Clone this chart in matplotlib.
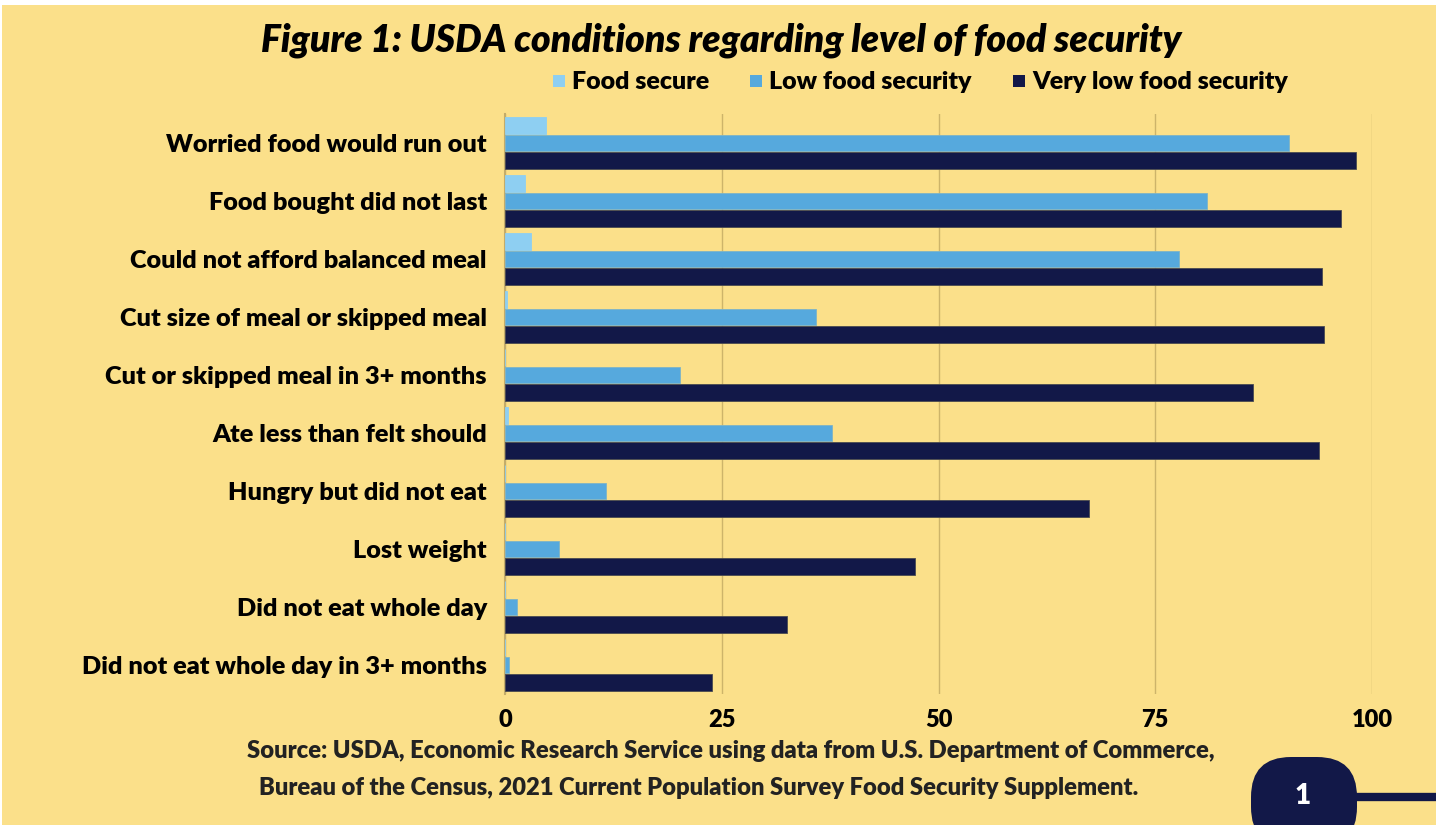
import matplotlib.pyplot as plt
import numpy as np
from matplotlib.patches import FancyBboxPatch, Rectangle

plt.rcParams['font.family'] = ['Lato', 'DejaVu Sans']

categories = [
    'Worried food would run out',
    'Food bought did not last',
    'Could not afford balanced meal',
    'Cut size of meal or skipped meal',
    'Cut or skipped meal in 3+ months',
    'Ate less than felt should',
    'Hungry but did not eat',
    'Lost weight',
    'Did not eat whole day',
    'Did not eat whole day in 3+ months',
]
food_secure = [4.7, 2.3, 3.0, 0.2, 0.0, 0.3, 0.0, 0.0, 0.0, 0.0]
low_security = [90.4, 81.0, 77.7, 35.9, 20.2, 37.7, 11.6, 6.2, 1.4, 0.5]
very_low_security = [98.2, 96.4, 94.2, 94.5, 86.3, 93.9, 67.4, 47.3, 32.5, 23.9]
series_names = ['Food secure', 'Low food security', 'Very low food security']
x_ticks = [0, 25, 50, 75, 100]

BG = '#FBE08A'
NAVY = '#121848'
COLORS = ['#8ECFF2', '#56A9DD', NAVY]
EDGES = ['#8ECFF2', '#7FB4C6', '#4A4A50']
W, H = 1436, 825

fig = plt.figure(figsize=(W / 100, H / 100), dpi=100)
fig.patch.set_facecolor('white')

# page layer in pixel coordinates: yellow panel, title, legend, source, badge
page = fig.add_axes([0, 0, 1, 1], zorder=0)
page.set_xlim(0, W)
page.set_ylim(H, 0)
page.axis('off')
page.add_patch(Rectangle((2, 5), W, H, facecolor=BG, edgecolor='none'))

ax = fig.add_axes([505 / W, 1 - 694 / H, (1372 - 505) / W, (694 - 114) / H], zorder=1)
ax.set_facecolor('none')

y = np.arange(len(categories))
h = 0.3
for i, vals in enumerate([food_secure, low_security, very_low_security]):
    ax.barh(y + (i - 1) * h, vals, height=h * 0.94, color=COLORS[i],
            edgecolor=EDGES[i], linewidth=0.6, zorder=3)

ax.set_xlim(0, 100)
ax.set_ylim(len(categories) - 0.5, -0.5)
ax.set_xticks(x_ticks)
ax.set_xticklabels([str(t) for t in x_ticks], fontsize=17, fontweight='heavy')
ax.set_yticks(y)
ax.set_yticklabels(categories, fontsize=18.2, fontweight='heavy')
ax.tick_params(axis='both', length=0)
ax.tick_params(axis='y', pad=13)
ax.tick_params(axis='x', pad=11)
ax.grid(axis='x', color='#CDB46A', linewidth=1.0, zorder=0)
for s in ['top', 'right', 'bottom']:
    ax.spines[s].set_visible(False)
ax.spines['left'].set_color('#C3AC6A')
ax.spines['left'].set_linewidth(1.5)

page.text(721, 40, 'Figure 1: USDA conditions regarding level of food security',
          ha='center', va='center', fontsize=26.9, fontweight='heavy', style='italic')

# legend row: square swatch followed by its label
legend_x = [553, 750, 1013]
for x0, name, c in zip(legend_x, series_names, COLORS):
    page.scatter([x0 + 6], [81], marker='s', s=85, color=c, linewidths=0)
    page.text(x0 + 19, 82, name, ha='left', va='center', fontsize=18, fontweight='heavy')

page.text(247, 751,
          'Source: USDA, Economic Research Service using data from U.S. Department of Commerce,',
          ha='left', va='center', fontsize=17.1, fontweight='heavy', color='#222222')
page.text(259, 788,
          'Bureau of the Census, 2021 Current Population Survey Food Security Supplement.',
          ha='left', va='center', fontsize=17.1, fontweight='heavy', color='#222222')

# page number badge
page.plot([1340, W], [797, 797], color=NAVY, linewidth=6, solid_capstyle='butt')
page.add_patch(FancyBboxPatch((1251, 757), 106, 90,
                              boxstyle='round,pad=0,rounding_size=40',
                              facecolor=NAVY, edgecolor='none'))
page.text(1303, 796, '1', ha='center', va='center', fontsize=20,
          fontweight='heavy', color='white')

fig.savefig('out.png', dpi=100, facecolor=fig.get_facecolor())
